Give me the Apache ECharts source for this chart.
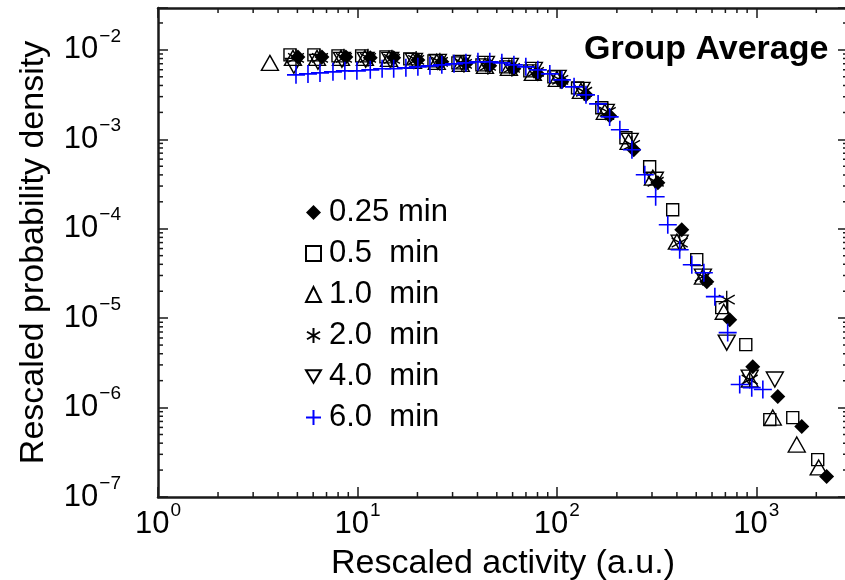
<!DOCTYPE html>
<html><head><meta charset="utf-8">
<script src="https://cdn.jsdelivr.net/npm/echarts@6/dist/echarts.min.js"></script>
<style>html,body{margin:0;padding:0;background:#fff}#c{width:845px;height:580px}</style>
</head><body><div id="c"></div>
<script>
const seriesNames = ['0.25 min', '0.5  min', '1.0  min', '2.0  min', '4.0  min', '6.0  min'];

const x025 = [5.03, 6.64, 8.75, 11.6, 15.2, 20.1, 26.5, 35.0, 46.1, 60.9, 80.3, 106, 140, 184, 243, 321, 423, 565, 736, 960, 1282, 1691, 2254];
const y025 = [0.00835, 0.00835, 0.00835, 0.00814, 0.00814, 0.00773, 0.00735, 0.00698, 0.00663, 0.00614, 0.00539, 0.00439, 0.00314, 0.00183, 7.63e-4, 3.27e-4, 9.75e-5, 2.56e-5, 9.62e-6, 2.87e-6, 1.33e-6, 6.14e-7, 1.70e-7];

const x05 = [4.59, 6.05, 7.99, 10.5, 13.9, 18.3, 24.2, 31.9, 42.1, 55.5, 73.2, 96.6, 127, 168, 222, 292, 381, 503, 671, 886, 1169, 1524, 2033];
const y05 = [0.00879, 0.00879, 0.00857, 0.00857, 0.00835, 0.00794, 0.00754, 0.00716, 0.00680, 0.00646, 0.00583, 0.00499, 0.00376, 0.00225, 0.00104, 4.93e-4, 1.63e-4, 4.51e-5, 1.31e-5, 5.06e-6, 7.34e-7, 7.73e-7, 2.62e-7];

const x10 = [3.64, 4.75, 6.27, 8.27, 10.9, 14.4, 19.0, 25.0, 33.0, 43.6, 57.5, 75.8, 100, 132, 174, 229, 303, 400, 540, 687, 927, 1210, 1596, 2056];
const y10 = [0.00716, 0.00814, 0.00814, 0.00814, 0.00814, 0.00794, 0.00754, 0.00735, 0.00698, 0.00663, 0.00630, 0.00553, 0.00474, 0.00348, 0.00203, 9.38e-4, 3.72e-4, 7.16e-5, 2.91e-5, 1.18e-5, 2.06e-6, 7.73e-7, 3.86e-7, 2.14e-7];

const x20 = [4.92, 6.49, 8.56, 11.3, 14.9, 19.7, 25.9, 34.2, 45.1, 59.5, 78.5, 104, 137, 180, 238, 313, 413, 540, 711, 927];
const y20 = [0.00814, 0.00814, 0.00814, 0.00814, 0.00794, 0.00773, 0.00735, 0.00698, 0.00663, 0.00630, 0.00568, 0.00462, 0.00340, 0.00203, 8.68e-4, 3.35e-4, 6.98e-5, 2.91e-5, 1.61e-5, 2.06e-6];

const x40 = [4.80, 6.34, 8.36, 11.0, 14.6, 19.2, 25.3, 33.4, 44.1, 58.1, 76.7, 101, 133, 176, 232, 310, 413, 540, 711, 927, 1239];
const y40 = [0.00663, 0.00735, 0.00773, 0.00773, 0.00773, 0.00754, 0.00735, 0.00716, 0.00698, 0.00663, 0.00598, 0.00487, 0.00357, 0.00203, 9.62e-4, 3.53e-4, 6.98e-5, 2.91e-5, 5.32e-6, 2.16e-6, 2.06e-6];

const x60 = [4.92, 5.65, 6.49, 7.54, 8.65, 9.94, 11.6, 13.3, 15.2, 17.5, 20.1, 23.1, 26.5, 30.5, 35.0, 40.2, 46.1, 53.0, 60.9, 69.9, 80.3, 92.2, 106, 122, 140, 161, 184, 207, 238, 276, 313, 360, 413, 475, 546, 620, 719, 826, 949, 1079];
const y60 = [0.00526, 0.00539, 0.00553, 0.00568, 0.00583, 0.00583, 0.00598, 0.00614, 0.00614, 0.00630, 0.00646, 0.00663, 0.00680, 0.00698, 0.00716, 0.00735, 0.00735, 0.00716, 0.00680, 0.00646, 0.00598, 0.00539, 0.00462, 0.00386, 0.00314, 0.00249, 0.00178, 0.00128, 7.63e-4, 4.01e-4, 2.28e-4, 1.11e-4, 5.83e-5, 3.96e-5, 3.22e-5, 1.74e-5, 6.89e-6, 1.81e-6, 1.67e-6, 1.59e-6];

const xMinorTicks = [2,3,4,5,6,7,8,9,20,30,40,50,60,70,80,90,200,300,400,500,600,700,800,900,2000];
const yMinorTicks = [2e-7,3e-7,4e-7,5e-7,6e-7,7e-7,8e-7,9e-7,2e-6,3e-6,4e-6,5e-6,6e-6,7e-6,8e-6,9e-6,2e-5,3e-5,4e-5,5e-5,6e-5,7e-5,8e-5,9e-5,2e-4,3e-4,4e-4,5e-4,6e-4,7e-4,8e-4,9e-4,2e-3,3e-3,4e-3,5e-3,6e-3,7e-3,8e-3,9e-3,2e-2];

const titleText = 'Group Average';
const xName = 'Rescaled activity (a.u.)';
const yName = 'Rescaled probability density';

const FONT = '"Liberation Sans", Arial, Helvetica, sans-serif';
const AX = '#1a1a1a';

function pairs(xs, ys) { return xs.map((x, i) => [x, ys[i]]); }

function fmt(v) {
  const e = Math.log10(v);
  const r = Math.round(e);
  if (Math.abs(e - r) > 1e-6) return '';
  return '{b|10}{s|' + (r < 0 ? '\u2212' + (-r) : String(r)) + '}';
}
const rich = {
  b: { fontSize: 31, lineHeight: 46, fontFamily: FONT, color: '#000' },
  s: { fontSize: 19, lineHeight: 19, verticalAlign: 'top', padding: [0, 0, 0, 1], fontFamily: FONT, color: '#000' }
};

const X_MIN = 1, X_MAX = 2884, Y_MIN = 1e-7, Y_MAX = 0.0294;

function axisBase(extra) {
  return Object.assign({
    type: 'log', logBase: 10,
    axisLine: { show: true, onZero: false, lineStyle: { color: AX, width: 2.5 } },
    axisTick: { show: true, inside: true, length: 10, lineStyle: { color: AX, width: 1.5 } },
    minorTick: { show: false },
    splitLine: { show: false },
    nameMoveOverlap: false
  }, extra);
}

const minorData = xMinorTicks.map(v => [v, 1e-4, 0]).concat(yMinorTicks.map(v => [10, v, 1]));

const openStyle = c => ({ color: 'transparent', borderColor: c, borderWidth: 1.4, opacity: 1 });
const DOWN_TRI = 'path://M0,0L2,0L1,1.7Z';

const option = {
  backgroundColor: '#fff',
  animation: false,
  grid: { left: 158, top: 8, right: -3, bottom: 83, containLabel: false, outerBoundsMode: 'none' },
  xAxis: [
    axisBase({ position: 'bottom', min: X_MIN, max: X_MAX,
      name: xName, nameLocation: 'middle', nameGap: 50,
      nameTextStyle: { fontSize: 34, fontFamily: FONT, color: '#000' },
      axisLabel: { formatter: fmt, rich: rich, margin: 4, showMinLabel: true, showMaxLabel: true, hideOverlap: false } }),
    axisBase({ position: 'top', min: X_MIN, max: X_MAX, axisLabel: { show: false } })
  ],
  yAxis: [
    axisBase({ position: 'left', min: Y_MIN, max: Y_MAX,
      name: yName, nameLocation: 'middle', nameGap: 107,
      nameTextStyle: { fontSize: 34, fontFamily: FONT, color: '#000' },
      axisLabel: { formatter: fmt, rich: rich, margin: 37, showMinLabel: true, showMaxLabel: true, hideOverlap: false } }),
    axisBase({ position: 'right', min: Y_MIN, max: Y_MAX, axisLabel: { show: false } })
  ],
  legend: {
    orient: 'vertical', left: 300, top: 192,
    itemWidth: 15, itemHeight: 15, itemGap: 10,
    textStyle: { fontSize: 31, lineHeight: 30.6, fontFamily: FONT, color: '#000', padding: [0, 0, 0, 3] },
    data: seriesNames,
    selectedMode: false
  },
  graphic: [{
    type: 'text', left: 584, top: 33,
    style: { text: titleText, font: 'bold 34px ' + FONT, fill: '#000' }
  }],
  series: [
    { name: seriesNames[1], type: 'scatter', symbol: 'rect', symbolSize: 12, itemStyle: openStyle('#000'), data: pairs(x05, y05) },
    { name: seriesNames[2], type: 'scatter', symbol: 'triangle', symbolSize: [17, 15], itemStyle: openStyle('#000'), data: pairs(x10, y10) },
    { name: seriesNames[4], type: 'scatter', symbol: DOWN_TRI, symbolSize: [17, 15], itemStyle: openStyle('#000'), data: pairs(x40, y40) },
    { name: seriesNames[3], type: 'scatter', symbol: 'path://M0,-10L0,10M-8.66,-5L8.66,5M-8.66,5L8.66,-5', symbolSize: [16, 18], itemStyle: openStyle('#000'), data: pairs(x20, y20) },
    { name: seriesNames[0], type: 'scatter', symbol: 'diamond', symbolSize: 15, itemStyle: { color: '#000', opacity: 1 }, data: pairs(x025, y025) },
    { name: seriesNames[5], type: 'scatter', symbol: 'path://M0,-1L0,1M-1,0L1,0', symbolSize: 18, itemStyle: { color: 'transparent', borderColor: '#0000ff', borderWidth: 1.6, opacity: 1 }, data: pairs(x60, y60) },
    {
      type: 'custom', silent: true, clip: false, z: 5,
      data: minorData,
      encode: { x: 0, y: 1 },
      renderItem: function (params, api) {
        const cs = params.coordSys;
        const kind = api.value(2);
        const st = { stroke: AX, lineWidth: 1.5 };
        const L = 5;
        if (kind === 0) {
          const x = api.coord([api.value(0), 1e-4])[0];
          return { type: 'group', children: [
            { type: 'line', shape: { x1: x, y1: cs.y + cs.height, x2: x, y2: cs.y + cs.height - L }, style: st },
            { type: 'line', shape: { x1: x, y1: cs.y, x2: x, y2: cs.y + L }, style: st }
          ] };
        } else {
          const y = api.coord([10, api.value(1)])[1];
          return { type: 'group', children: [
            { type: 'line', shape: { x1: cs.x, y1: y, x2: cs.x + L, y2: y }, style: st },
            { type: 'line', shape: { x1: cs.x + cs.width, y1: y, x2: cs.x + cs.width - L, y2: y }, style: st }
          ] };
        }
      }
    }
  ]
};

const chart = echarts.init(document.getElementById('c'), null, { renderer: 'canvas' });
chart.setOption(option);
</script>
</body></html>
